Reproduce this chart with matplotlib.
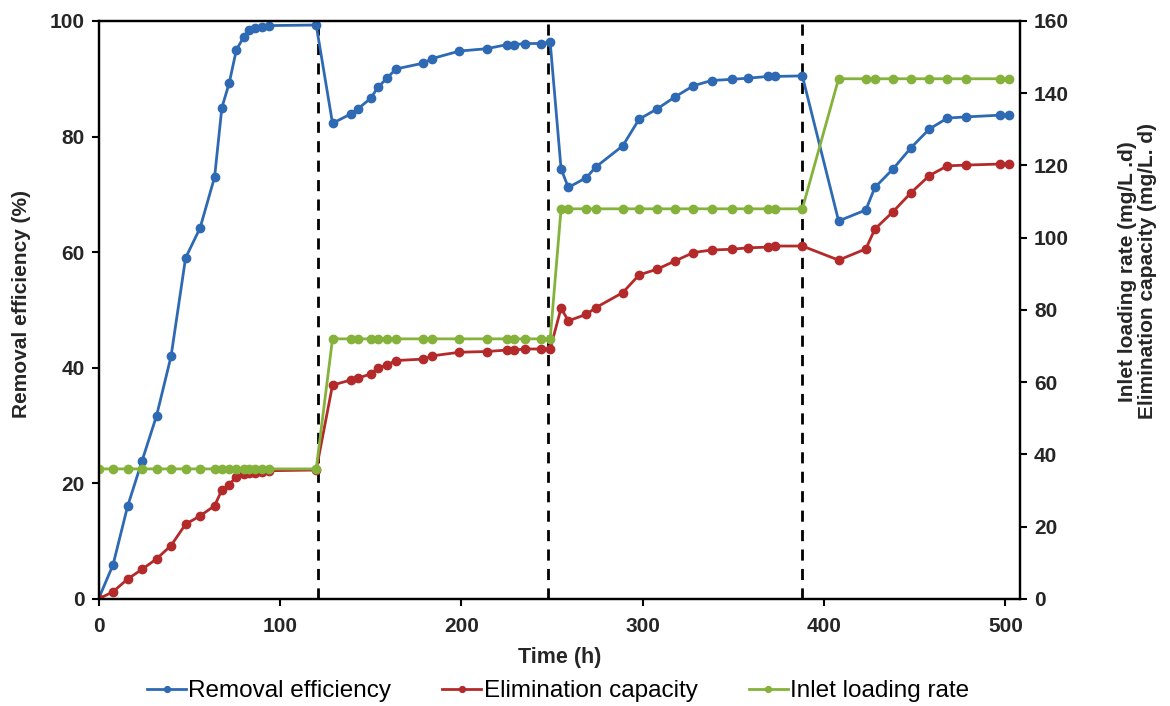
import matplotlib.pyplot as plt

# operating time (h) for each sample
time_h = [0, 8, 16, 24, 32, 40, 48, 56, 64, 68, 72, 76, 80, 83, 86, 90, 94, 120,
          129, 139, 143, 150, 154, 159, 164, 179, 184, 199, 214, 225, 229, 235, 244, 249,
          255, 259, 269, 274, 289, 298, 308, 318, 328, 338, 349, 358, 369, 373, 388,
          408, 423, 428, 438, 448, 458, 468, 478, 497, 502]

# removal efficiency (%)
removal = [0, 5.9, 16.0, 23.9, 31.7, 42.0, 59.0, 64.2, 73.0, 85.0, 89.2, 95.0, 97.2, 98.4, 98.8, 99.0, 99.2, 99.3,
           82.3, 83.9, 84.8, 86.6, 88.5, 90.1, 91.7, 92.7, 93.5, 94.8, 95.2, 95.9, 95.9, 96.1, 96.1, 96.3,
           74.4, 71.2, 72.9, 74.7, 78.4, 83.0, 84.8, 86.9, 88.8, 89.7, 89.9, 90.1, 90.4, 90.4, 90.5,
           65.4, 67.3, 71.2, 74.4, 78.1, 81.3, 83.2, 83.4, 83.7, 83.7]

# elimination capacity (mg/L.d)
elimination = [0, 2.0, 5.5, 8.2, 11.1, 14.8, 20.7, 23.0, 25.8, 30.2, 31.6, 33.9, 34.5, 34.8, 35.0, 35.2, 35.5, 35.7,
               59.2, 60.6, 61.1, 62.3, 63.9, 64.8, 66.0, 66.4, 67.3, 68.3, 68.5, 68.9, 68.9, 69.2, 69.2, 69.2,
               80.5, 77.0, 78.8, 80.6, 84.8, 89.7, 91.3, 93.6, 95.9, 96.6, 96.8, 97.2, 97.4, 97.7, 97.7,
               93.8, 96.9, 102.4, 107.2, 112.5, 117.2, 119.9, 120.1, 120.4, 120.4]

# inlet loading rate (mg/L.d)
loading = [36] * 18 + [72] * 16 + [108] * 15 + [144] * 10

# phase changes
phase_changes = [121, 248, 388]

blue = '#2E69B3'
red = '#B42A2A'
green = '#84B23A'
tick_col = '#262626'

plt.rcParams['font.family'] = ['Liberation Sans', 'DejaVu Sans']

fig = plt.figure(figsize=(11.7, 7.06), dpi=100)
ax = fig.add_axes([0.0842, 0.1516, 0.7876, 0.8187])
ax2 = ax.twinx()

l1, = ax.plot(time_h, removal, color=blue, marker='o', markersize=6, lw=2, label='Removal efficiency')
l2, = ax2.plot(time_h, elimination, color=red, marker='o', markersize=6, lw=2, label='Elimination capacity')
l3, = ax2.plot(time_h, loading, color=green, marker='o', markersize=6, lw=2, label='Inlet loading rate')

for t in phase_changes:
    ax.axvline(t, color='black', ls=(0, (4, 3)), lw=2, zorder=0)

ax.set_xlim(0, 508)
ax.set_ylim(0, 100)
ax2.set_ylim(0, 160)
ax.set_xticks(range(0, 501, 100))
ax.set_yticks(range(0, 101, 20))
ax2.set_yticks(range(0, 161, 20))

for a in (ax, ax2):
    for s in a.spines.values():
        s.set_linewidth(1.6)
    a.tick_params(direction='out', length=5, width=1.5, labelsize=15, labelcolor=tick_col, pad=5)
    for lab in a.get_xticklabels() + a.get_yticklabels():
        lab.set_fontweight('bold')
ax.tick_params(axis='x', pad=8)

ax.set_xlabel('Time (h)', fontsize=15.5, fontweight='bold', color=tick_col, labelpad=8)
ax.set_ylabel('Removal efficiency (%)', fontsize=15, fontweight='bold', color=tick_col)
ax.yaxis.set_label_coords(-0.073, 0.51)
ax2.set_ylabel('Inlet loading rate (mg/L .d)\nElimination capacity (mg/L. d)', fontsize=15,
               fontweight='bold', color=tick_col, linespacing=1.1)
ax2.yaxis.set_label_coords(1.106, 0.567)

fig.legend(handles=[l1, l2, l3], loc='center', bbox_to_anchor=(0.477, 0.021), ncol=3, frameon=False,
           fontsize=17.5, handlelength=1.6, markerscale=0.7, columnspacing=2.1, handletextpad=0.1)

fig.savefig('out.png', dpi=100)
